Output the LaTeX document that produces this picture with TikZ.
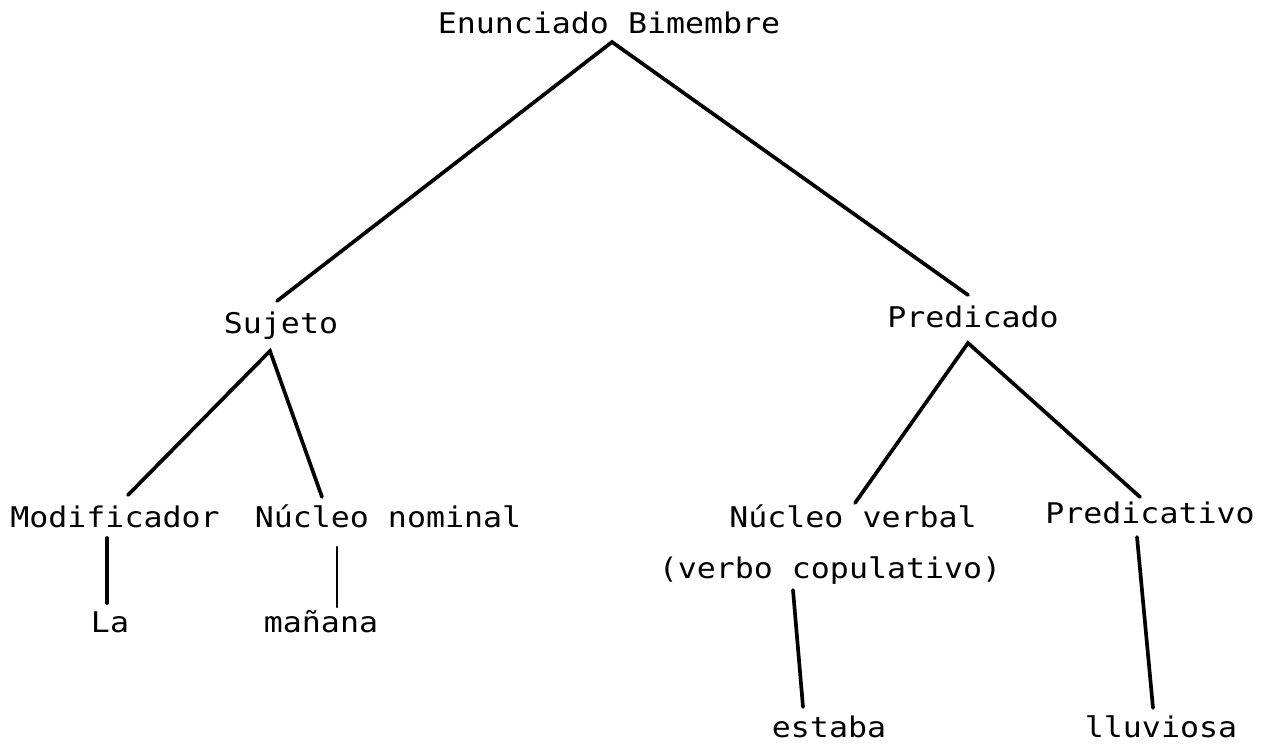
\documentclass[tikz,border=0pt]{standalone}
\usepackage{fontspec}
\setmonofont[FakeStretch=1.11]{DejaVu Sans Mono}
\begin{document}
\begin{tikzpicture}[x=0.02cm,y=-0.02cm,
  lbl/.style={font=\ttfamily\fontsize{16.2pt}{19pt}\selectfont, anchor=base, inner sep=0pt},
  branch/.style={line width=2.1pt, line cap=round},
  thin branch/.style={line width=1.2pt, line cap=round}]
\useasboundingbox (0,0) rectangle (1264,744);
% labels
\node[lbl] (eb)  at (609,33)  {Enunciado Bimembre};
\node[lbl] (suj) at (281,333) {Sujeto};
\node[lbl] (pre) at (973,327) {Predicado};
\node[lbl] (mod) at (115,527) {Modificador};
\node[lbl] (nn)  at (388,527) {Núcleo nominal};
\node[lbl] (nv)  at (853,527) {Núcleo verbal};
\node[lbl] (vc)  at (830,578) {(verbo copulativo)};
\node[lbl] (pva) at (1150,523) {Predicativo};
\node[lbl] (la)  at (110,632) {La};
\node[lbl] (man) at (321,632) {mañana};
\node[lbl] (est) at (829,737) {estaba};
\node[lbl] (llu) at (1161,737) {lluviosa};
% connector end points
\coordinate (eb-a)  at (612,42);
\coordinate (suj-t) at (277,301);
\coordinate (pre-t) at (968,295);
\coordinate (suj-a) at (270,351);
\coordinate (mod-t) at (128,495);
\coordinate (nn-t)  at (322,497);
\coordinate (pre-a) at (968,343);
\coordinate (nv-t)  at (855,503);
\coordinate (pva-t) at (1140,497);
\coordinate (mod-b) at (107,538);
\coordinate (la-t)  at (107,603);
\coordinate (nn-b)  at (337,547);
\coordinate (man-t) at (337,607);
\coordinate (vc-b)  at (793,590);
\coordinate (est-t) at (803,707);
\coordinate (pva-b) at (1137,537);
\coordinate (llu-t) at (1153,708);
% connectors
\draw[branch] (suj-t) -- (eb-a) -- (pre-t);
\draw[branch] (mod-t) -- (suj-a) -- (nn-t);
\draw[branch] (nv-t) -- (pre-a) -- (pva-t);
\draw[branch] (mod-b) -- (la-t);
\draw[thin branch] (nn-b) -- (man-t);
\draw[branch] (vc-b) -- (est-t);
\draw[branch] (pva-b) -- (llu-t);
\end{tikzpicture}
\end{document}
